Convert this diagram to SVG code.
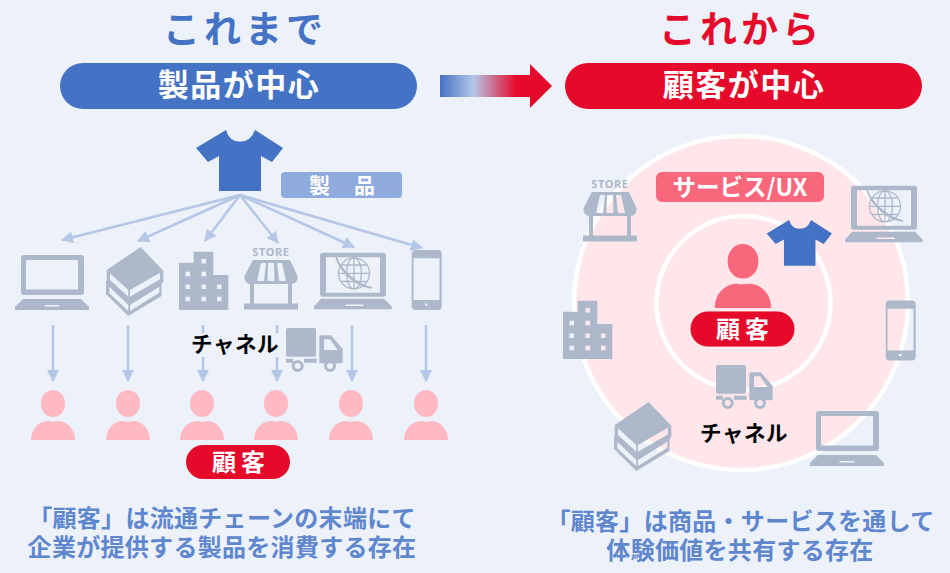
<svg xmlns="http://www.w3.org/2000/svg" width="950" height="573" viewBox="0 0 950 573">
<style>
text{font-family:"Noto Sans CJK JP","Noto Sans",sans-serif;font-weight:700;text-anchor:middle}
.ic{fill:#adb9ca;fill-rule:evenodd}
.cl{fill:#adb9ca}
.head{font-size:37px;letter-spacing:4px}
.pt{font-size:31px;letter-spacing:1.5px;fill:#fff}
.note{font-size:24px;letter-spacing:.3px;fill:#5f87cf}
.ch{font-size:21.5px;letter-spacing:.5px;fill:#000}
.conn line{stroke:#b4c7e7;stroke-width:2.5;fill:none}
.hd{fill:#b4c7e7}
.red{fill:#e60a2a}
.tag{font-size:24px;letter-spacing:5px;fill:#fff}
</style>
<defs>
<linearGradient id="grad" x1="0" x2="1" y1="0" y2="0">
<stop offset="0" stop-color="#4472c4"/><stop offset=".3" stop-color="#b4c7e7"/><stop offset=".68" stop-color="#e60a2a"/><stop offset="1" stop-color="#e60a2a"/>
</linearGradient>
<marker id="ah" viewBox="0 0 12 12" refX="11" refY="6" markerWidth="12" markerHeight="12" markerUnits="userSpaceOnUse" orient="auto"><path d="M0,0L12,6L0,12Z" class="hd"/></marker>
<path id="shirt" d="M226,130Q229,141.500 240,141.700Q251,141.500 255,130L283,148L272,162L261,156V191H219V156L208,162L196,148Z"/>
<g id="p"><rect x="-12" y="-50" width="24" height="27" rx="12" ry="13"/><path d="M-22,0C-22,-12 -13,-19 -5,-19Q0,-18 5,-19C13,-19 22,-12 22,0Z"/></g>
<g id="laptop"><path class="ic" d="M24,255H81a3,3 0 0 1 3,3V292a3,3 0 0 1 -3,3H24a3,3 0 0 1 -3,-3V258a3,3 0 0 1 3,-3ZM26,260V289.500H78V260Z"/><path class="ic" d="M23,299H81L89,307V310H15V307ZM45,305L44,306.500H60L59,305Z"/></g>
<path id="books" class="ic" d="M140.700,247L163.300,270.700V282L161.500,284V296L128.300,316L106,294V282L106.700,280V270ZM110,273.300L128.300,290V296.700L110,280ZM130,290L160,272.700V279.300L130,296.700ZM109.300,286.700L128.300,305V311L109.300,293.300ZM130,305L159.300,286.700V292.700L130,311Z"/>
<path id="building" class="ic" d="M179,262.700H193.700V251.700H213.300V275H228.300V310H179ZM201.500,259V263.500H206V259ZM185.500,271.700V276.300H190V271.700ZM201.500,271.700V276.300H206V271.700ZM185.500,284.400V289H190V284.400ZM201.500,284.400V289H206V284.400ZM217,284.400V289H221.500V284.400ZM185.500,296.700V301.300H190V296.700ZM201.500,296.700V301.300H206V296.700ZM217,296.700V301.300H221.500V296.700Z"/>
<g id="store"><text x="271" y="256" style="font-size:11px;letter-spacing:.6px;fill:#adb9ca;font-family:'Noto Sans',sans-serif">STORE</text>
<path class="ic" d="M253,260H290L297.500,276V279Q296,284 291,284H251Q246,284 244.500,279V276ZM261,263L257,281H264L266,263ZM268,263L267.500,281H274.500L274,263ZM277,263L279,281H286L282,263Z"/>
<path class="ic" d="M250,284H254V303.500H288V284H292V303.500H298V309.500H244V303.500H250Z"/></g>
<g id="globe"><path class="ic" d="M323,252.700H383a3,3 0 0 1 3,3V293.700a3,3 0 0 1 -3,3H323a3,3 0 0 1 -3,-3V255.700a3,3 0 0 1 3,-3ZM326,257.300V292.700H380V257.300Z"/><path class="ic" d="M321,298.700H384L391.700,306.500V309.300H314V306.500ZM346,304.500L345,306H364L363,304.500Z"/>
<g fill="none" stroke="#adb9ca" stroke-width="1.300"><circle cx="354" cy="273.300" r="15.500"/><ellipse cx="354" cy="273.300" rx="7.500" ry="15.500"/><path d="M354,258V289M338.500,273.300H369.500M341,265H367M341,281.500H367"/></g>
<path d="M336,257C341,270 355,284 372,288C358,287 341,274 336,257Z" fill="#adb9ca" stroke="#adb9ca" stroke-width="1.500"/></g>
<path id="phone" class="ic" d="M415.700,250H437.700a4,4 0 0 1 4,4V306a4,4 0 0 1 -4,4H415.700a4,4 0 0 1 -4,-4V254a4,4 0 0 1 4,-4ZM413.500,258.300V300H439.500V258.300ZM425,303.500V305.500H427.500V303.500Z"/>
<g id="truck"><rect class="cl" x="286" y="328" width="30" height="28.700" rx="2"/><path class="ic" d="M321,335.300H331L342.700,349V361.300a2,2 0 0 1 -2,2H319.300V337a2,2 0 0 1 1.700,-1.700ZM324,339.300V350H337.500L330,339.300Z"/><path class="cl" d="M286,358.700H293V362.700H286ZM304,358.700H316.700V362.700H304Z"/><circle cx="297.700" cy="366" r="4.500" fill="none" stroke="#adb9ca" stroke-width="3"/><circle cx="330" cy="366" r="4.500" fill="none" stroke="#adb9ca" stroke-width="3"/></g>
</defs>
<rect id="background" width="950" height="573" fill="#ecf1fa"/>
<g id="heading-before"><text class="head" x="245" y="43" fill="#4472c4">これまで</text></g>
<g id="heading-after"><text class="head" x="741" y="43" fill="#e60a2a">これから</text></g>
<g id="pill-product"><rect x="60" y="63" width="357" height="46" rx="23" fill="#4472c4"/><text class="pt" x="239" y="96">製品が中心</text></g>
<g id="pill-customer"><rect x="565" y="63" width="357" height="46" rx="23" fill="#e60a2a"/><text class="pt" x="744" y="96">顧客が中心</text></g>
<g id="transition-arrow"><path d="M440,75H530V64L552,86L530,108V97H440Z" fill="url(#grad)"/></g>
<g id="rings"><circle cx="741" cy="303" r="167" fill="#ffe6ea" stroke="#fff" stroke-width="4.500"/><circle cx="743.500" cy="303" r="87" fill="#ffe6ea" stroke="#fff" stroke-width="4.500"/></g>
<g id="connectors" class="conn">
<line x1="240" y1="195" x2="62" y2="240" marker-end="url(#ah)"/>
<line x1="240" y1="195" x2="138" y2="241" marker-end="url(#ah)"/>
<line x1="240" y1="195" x2="205" y2="241" marker-end="url(#ah)"/>
<line x1="240" y1="195" x2="278" y2="243" marker-end="url(#ah)"/>
<line x1="240" y1="195" x2="354" y2="247" marker-end="url(#ah)"/>
<line x1="240" y1="195" x2="422" y2="248" marker-end="url(#ah)"/>
<line x1="53" y1="325" x2="53" y2="381" marker-end="url(#ah)"/>
<line x1="128" y1="325" x2="128" y2="381" marker-end="url(#ah)"/>
<line x1="203" y1="325" x2="203" y2="333"/><line x1="203" y1="357" x2="203" y2="381" marker-end="url(#ah)"/>
<line x1="277" y1="325" x2="277" y2="333"/><line x1="277" y1="357" x2="277" y2="381" marker-end="url(#ah)"/>
<line x1="352" y1="325" x2="352" y2="381" marker-end="url(#ah)"/>
<line x1="426" y1="325" x2="426" y2="381" marker-end="url(#ah)"/>
</g>
<g id="product"><use href="#shirt" fill="#4472c4"/><rect x="281" y="172" width="121" height="26" rx="4" fill="#8faadc"/><text x="354" y="193" style="font-size:21px;letter-spacing:24px" fill="#fff">製品</text></g>
<g id="channel-laptop"><use href="#laptop"/></g>
<g id="channel-books"><use href="#books"/></g>
<g id="channel-building"><use href="#building"/></g>
<g id="channel-store"><use href="#store"/></g>
<g id="channel-web"><use href="#globe"/></g>
<g id="channel-phone"><use href="#phone"/></g>
<g id="channel-label"><text class="ch" x="235" y="352">チャネル</text><use href="#truck"/></g>
<g id="customers" fill="#ffb9c3">
<use href="#p" x="53" y="440"/><use href="#p" x="128" y="440"/><use href="#p" x="202" y="440"/><use href="#p" x="276" y="440"/><use href="#p" x="351" y="440"/><use href="#p" x="426" y="440"/>
</g>
<g id="customer-label"><rect class="red" x="186" y="445" width="104" height="34" rx="17"/><text class="tag" x="241" y="471">顧客</text></g>
<g id="note-before"><text class="note"><tspan x="222" y="527">「顧客」は流通チェーンの末端にて</tspan><tspan x="222" y="556">企業が提供する製品を消費する存在</tspan></text></g>
<g id="ux-store"><use href="#store" x="339" y="-68"/></g>
<g id="ux-web"><use href="#globe" x="531" y="-67"/></g>
<g id="ux-building"><use href="#building" x="384" y="49"/></g>
<g id="ux-phone"><use href="#phone" x="474" y="50.500"/></g>
<g id="ux-books"><use href="#books" x="508" y="155"/></g>
<g id="ux-laptop"><use href="#laptop" x="795" y="156"/></g>
<g id="ux-label"><rect x="656" y="172" width="168" height="30" rx="6" fill="#f9677d"/><text x="740" y="196" style="font-size:23.500px" fill="#fff">サービス/UX</text></g>
<g id="ux-customer"><use href="#p" transform="translate(743,308) scale(1.28)" fill="#f9677d"/><rect class="red" x="690" y="311" width="105" height="36" rx="18" stroke="#fff" stroke-width=".8"/><text class="tag" x="745" y="338">顧客</text></g>
<g id="ux-shirt"><use href="#shirt" transform="translate(766.700,220) scale(.75) translate(-196,-130)" fill="#4472c4"/></g>
<g id="ux-channel"><use href="#truck" x="430" y="37"/><text class="ch" x="744" y="441">チャネル</text></g>
<g id="note-after"><text class="note"><tspan x="740.500" y="530">「顧客」は商品・サービスを通して</tspan><tspan x="740" y="559">体験価値を共有する存在</tspan></text></g>
</svg>
